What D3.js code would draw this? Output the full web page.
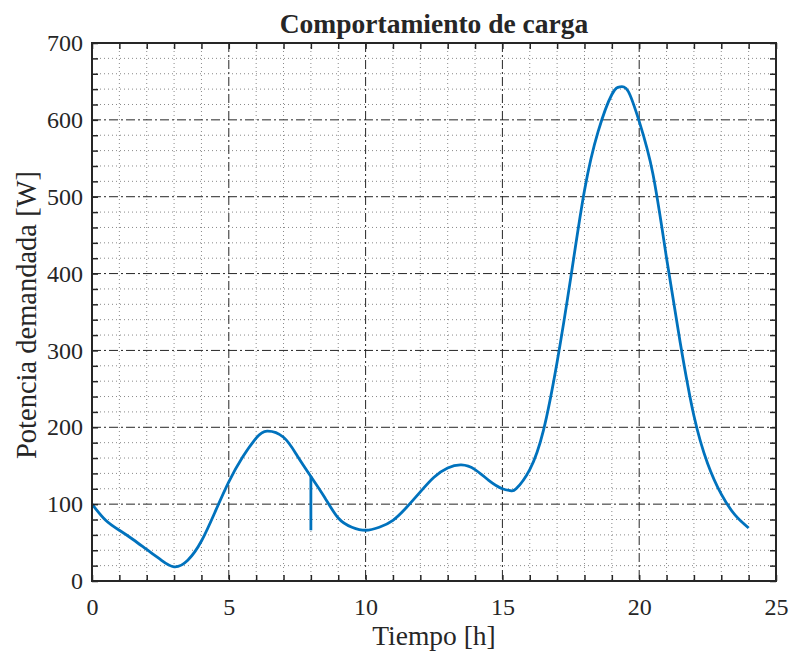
<!DOCTYPE html>
<html lang="es">
<head>
<meta charset="utf-8">
<title>Comportamiento de carga</title>
<style type="text/css">
    body { margin: 0; background: #fff; }
    text { font-family: "Liberation Serif", "DejaVu Serif", serif; fill: #262626; }
</style>
</head>
<body>
<script src="https://d3js.org/d3.v7.min.js"></script>
<script>

    // data
    var hours = [0, 0.5, 1, 1.5, 2, 2.5, 3, 3.5, 4, 4.5, 5, 5.5, 6, 6.4, 7, 7.5, 8,
                 8.5, 9, 9.5, 10, 10.5, 11, 11.5, 12, 12.5, 13, 13.5, 14, 14.5, 15, 15.3, 15.5,
                 16, 16.5, 17, 17.5, 18, 18.5, 19, 19.3, 19.6, 20, 20.5, 21, 21.5, 22,
                 22.5, 23, 23.5, 24];
    var power = [100, 79, 66, 54, 41, 28, 18.5, 27, 52, 90, 129, 161, 186, 195, 187, 163, 136,
                 109, 82, 70, 66, 70, 79, 96, 116, 135, 147, 151, 145, 131, 120, 117.5, 120,
                 145, 196, 285, 395, 508, 585, 633, 643, 637, 598, 530, 420, 310, 215,
                 153, 113, 86, 69];
    var spikeHour = 8;
    var spikeLow = 66;

    var xTicks = [0, 5, 10, 15, 20, 25];
    var yTicks = [0, 100, 200, 300, 400, 500, 600, 700];
    var xMinor = d3.range(0, 26, 1);
    var yMinor = d3.range(0, 701, 20);

    var margin = {top: 43, right: 14, bottom: 74, left: 92},
        width = 790 - margin.left - margin.right,
        height = 655 - margin.top - margin.bottom;

    var svg = d3.select("body").append("svg")
        .attr("width", 790)
        .attr("height", 655);

    var g = svg.append("g")
        .attr("transform", "translate(" + margin.left + "," + margin.top + ")");

    var xScale = d3.scaleLinear().domain([0, 25]).range([0, width]);
    var yScale = d3.scaleLinear().domain([0, 700]).range([height, 0]);

    // minor grid
    g.append("g").selectAll("line")
        .data(xMinor.filter(function(d){ return d % 5 !== 0; }))
        .enter().append("line")
        .attr("x1", function(d){ return xScale(d); })
        .attr("x2", function(d){ return xScale(d); })
        .attr("y1", 0).attr("y2", height)
        .attr("stroke", "#8a8a8a").attr("stroke-width", 1)
        .attr("stroke-dasharray", "1,3");
    g.append("g").selectAll("line")
        .data(yMinor.filter(function(d){ return d % 100 !== 0; }))
        .enter().append("line")
        .attr("y1", function(d){ return yScale(d); })
        .attr("y2", function(d){ return yScale(d); })
        .attr("x1", 0).attr("x2", width)
        .attr("stroke", "#8a8a8a").attr("stroke-width", 1)
        .attr("stroke-dasharray", "1,3");

    // major grid
    g.append("g").selectAll("line")
        .data(xTicks.slice(1, -1))
        .enter().append("line")
        .attr("x1", function(d){ return xScale(d); })
        .attr("x2", function(d){ return xScale(d); })
        .attr("y1", 0).attr("y2", height)
        .attr("stroke", "#262626").attr("stroke-width", 1)
        .attr("stroke-dasharray", "9,3,2,3");
    g.append("g").selectAll("line")
        .data(yTicks.slice(1, -1))
        .enter().append("line")
        .attr("y1", function(d){ return yScale(d); })
        .attr("y2", function(d){ return yScale(d); })
        .attr("x1", 0).attr("x2", width)
        .attr("stroke", "#262626").attr("stroke-width", 1)
        .attr("stroke-dasharray", "9,3,2,3");

    // curve
    var line = d3.line()
        .x(function(d){ return xScale(d[0]); })
        .y(function(d){ return yScale(d[1]); })
        .curve(d3.curveNatural);

    var pts = hours.map(function(h, i){ return [h, power[i]]; });
    g.append("path")
        .datum(pts)
        .attr("d", line)
        .attr("fill", "none")
        .attr("stroke", "#0072BD")
        .attr("stroke-width", 2.8)
        .attr("stroke-linejoin", "round");

    var spikeTop = power[hours.indexOf(spikeHour)];
    g.append("path")
        .datum([[spikeHour, spikeTop], [spikeHour, spikeLow]])
        .attr("d", d3.line().x(function(d){ return xScale(d[0]); }).y(function(d){ return yScale(d[1]); }))
        .attr("fill", "none")
        .attr("stroke", "#0072BD")
        .attr("stroke-width", 2.8);

    // axes with inside ticks
    var xAxis = d3.axisBottom(xScale).tickValues(xMinor).tickSizeInner(-6).tickSizeOuter(0)
        .tickFormat(function(d){ return xTicks.indexOf(d) >= 0 ? d : ""; });
    var xAxisTop = d3.axisTop(xScale).tickValues(xMinor).tickSizeInner(-6).tickSizeOuter(0).tickFormat("");
    var yAxis = d3.axisLeft(yScale).tickValues(yMinor).tickSizeInner(-6).tickSizeOuter(0)
        .tickFormat(function(d){ return yTicks.indexOf(d) >= 0 ? d : ""; });
    var yAxisRight = d3.axisRight(yScale).tickValues(yMinor).tickSizeInner(-6).tickSizeOuter(0).tickFormat("");

    var gx = g.append("g").attr("transform", "translate(0," + height + ")").call(xAxis);
    var gxt = g.append("g").call(xAxisTop);
    var gy = g.append("g").call(yAxis);
    var gyr = g.append("g").attr("transform", "translate(" + width + ",0)").call(yAxisRight);

    [gx, gxt, gy, gyr].forEach(function(a){
        a.attr("font-family", null).attr("font-size", null);
        a.select(".domain").remove();
        a.selectAll(".tick line").attr("stroke", "#262626").attr("stroke-width", 1.5);
        a.selectAll("text").attr("font-size", "24px").attr("fill", "#262626");
    });
    gx.selectAll("text").attr("y", 17);
    gy.selectAll("text").attr("x", -9);

    g.append("rect")
        .attr("x", 0).attr("y", 0)
        .attr("width", width).attr("height", height)
        .attr("fill", "none")
        .attr("stroke", "#262626")
        .attr("stroke-width", 2);

    // labels
    svg.append("text")
        .attr("x", margin.left + width / 2).attr("y", 33)
        .attr("text-anchor", "middle")
        .attr("font-size", "27.5px").attr("font-weight", "bold")
        .text("Comportamiento de carga");

    svg.append("text")
        .attr("x", margin.left + width / 2).attr("y", 645)
        .attr("text-anchor", "middle")
        .attr("font-size", "27.5px")
        .text("Tiempo [h]");

    svg.append("text")
        .attr("transform", "translate(36," + (margin.top + height / 2 + 3) + ") rotate(-90)")
        .attr("text-anchor", "middle")
        .attr("font-size", "28.5px")
        .text("Potencia demandada [W]");

</script>
</body>
</html>
